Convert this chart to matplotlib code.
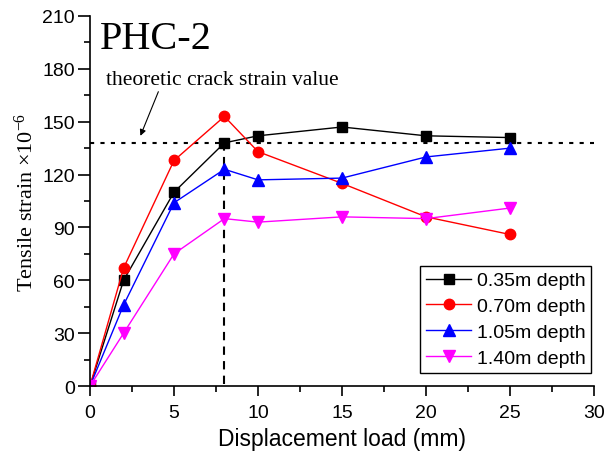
import matplotlib
matplotlib.use("Agg")
import matplotlib.pyplot as plt

# displacement load steps (mm)
load = [0, 2, 5, 8, 10, 15, 20, 25]

# tensile strain (x10^-6) at each depth
strain_035 = [0, 60, 110, 138, 142, 147, 142, 141]
strain_070 = [0, 67, 128, 153, 133, 115, 96, 86]
strain_105 = [0, 46, 104, 123, 117, 118, 130, 135]
strain_140 = [0, 30, 75, 95, 93, 96, 95, 101]

labels = ["0.35m depth", "0.70m depth", "1.05m depth", "1.40m depth"]
crack_strain = 138
crack_load = 8

sans = "Liberation Sans"
serif = "Liberation Serif"
plt.rcParams["font.family"] = [sans, "DejaVu Sans"]
plt.rcParams["mathtext.fontset"] = "custom"
plt.rcParams["mathtext.rm"] = serif
plt.rcParams["mathtext.it"] = serif + ":italic"

fig = plt.figure(figsize=(6.05, 4.52), dpi=100)
ax = fig.add_axes([0.1488, 0.1438, 0.8330, 0.8186])

ax.plot(load, strain_035, color="black", marker="s", ms=6.5, lw=1, label=labels[0])
ax.plot(load, strain_070, color="red", marker="o", ms=7.5, lw=1, label=labels[1])
ax.plot(load, strain_105, color="blue", marker="^", ms=8, lw=1, label=labels[2])
ax.plot(load, strain_140, color="magenta", marker="v", ms=8, lw=1, label=labels[3])

# theoretic crack strain reference lines
ax.axhline(crack_strain, color="black", ls=(0, (2, 3)), lw=1.5, zorder=1)
ax.plot([crack_load, crack_load], [1, crack_strain], color="black",
        ls=(0, (4, 3)), lw=1.5, zorder=1)

ax.annotate("theoretic crack strain value", xy=(3.0, 142), xytext=(0.95, 174),
            fontsize=15.5, family=serif, va="center",
            arrowprops=dict(arrowstyle="-|>", color="black", lw=0.8,
                            mutation_scale=9, shrinkA=0, shrinkB=0,
                            relpos=(0.23, 0)))
ax.text(0.6, 197, "PHC-2", fontsize=29, family=serif, va="center")

ax.set_xlim(0, 30)
ax.set_ylim(0, 210)
ax.set_xticks(range(0, 31, 5))
ax.set_xticks([2.5 + 5 * i for i in range(6)], minor=True)
ax.set_yticks(range(0, 211, 30))
ax.set_yticks([15 + 30 * i for i in range(7)], minor=True)

for s in ["top", "right"]:
    ax.spines[s].set_visible(False)
for s in ["left", "bottom"]:
    ax.spines[s].set_linewidth(1.2)

ax.tick_params(which="major", direction="out", width=1.2, labelsize=14)
ax.tick_params(axis="x", which="major", length=7, pad=6)
ax.tick_params(axis="y", which="major", length=9, pad=2)
ax.tick_params(which="minor", direction="out", length=4, width=1.2)

ax.set_xlabel("Displacement load (mm)", fontsize=16.5, labelpad=4)
ax.set_ylabel("Tensile strain \u00d710$^{-6}$", fontsize=16, family=serif, labelpad=3)

leg = ax.legend(loc="lower right", bbox_to_anchor=(1.014, 0.01),
                prop={"family": sans, "size": 14}, fancybox=False,
                edgecolor="black", framealpha=1, handlelength=2.3,
                borderpad=0.3, labelspacing=0.42, handletextpad=0.3)
leg.get_frame().set_linewidth(1)

fig.savefig("out.png", dpi=100)
